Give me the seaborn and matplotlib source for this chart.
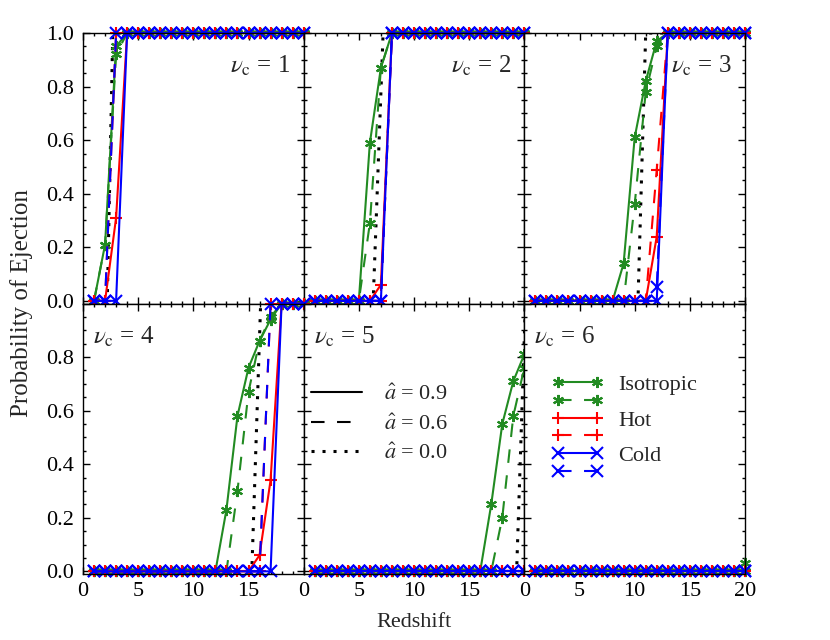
import matplotlib
matplotlib.use("Agg")
import matplotlib.pyplot as plt
import seaborn as sns
from matplotlib.lines import Line2D
from matplotlib.ticker import MultipleLocator

# redshift grid of the simulations
redshift = [1, 2, 3, 4, 5, 6, 7, 8, 9, 10, 11, 12, 13, 14, 15, 16, 17, 18, 19, 20]

# nu_c = 1
iso09_1 = [0, .21, .95, 1, 1, 1, 1, 1, 1, 1, 1, 1, 1, 1, 1, 1, 1, 1, 1, 1]
iso06_1 = [0, .21, .92, 1, 1, 1, 1, 1, 1, 1, 1, 1, 1, 1, 1, 1, 1, 1, 1, 1]
hot09_1 = [0, 0, .31, 1, 1, 1, 1, 1, 1, 1, 1, 1, 1, 1, 1, 1, 1, 1, 1, 1]
hot06_1 = [0, 0, 1, 1, 1, 1, 1, 1, 1, 1, 1, 1, 1, 1, 1, 1, 1, 1, 1, 1]
cold09_1 = [0, 0, 0, 1, 1, 1, 1, 1, 1, 1, 1, 1, 1, 1, 1, 1, 1, 1, 1, 1]
cold06_1 = [0, 0, 1, 1, 1, 1, 1, 1, 1, 1, 1, 1, 1, 1, 1, 1, 1, 1, 1, 1]
dotx_1 = [1, 2.2, 2.7, 20]
doty_1 = [0, 0, 1, 1]

# nu_c = 2
iso09_2 = [0, 0, 0, 0, 0, .59, .87, 1, 1, 1, 1, 1, 1, 1, 1, 1, 1, 1, 1, 1]
iso06_2 = [0, 0, 0, 0, 0, .29, .87, 1, 1, 1, 1, 1, 1, 1, 1, 1, 1, 1, 1, 1]
hot09_2 = [0, 0, 0, 0, 0, 0, .06, 1, 1, 1, 1, 1, 1, 1, 1, 1, 1, 1, 1, 1]
hot06_2 = [0, 0, 0, 0, 0, 0, 0, 1, 1, 1, 1, 1, 1, 1, 1, 1, 1, 1, 1, 1]
cold09_2 = [0, 0, 0, 0, 0, 0, 0, 1, 1, 1, 1, 1, 1, 1, 1, 1, 1, 1, 1, 1]
cold06_2 = [0, 0, 0, 0, 0, 0, 0, 1, 1, 1, 1, 1, 1, 1, 1, 1, 1, 1, 1, 1]
dotx_2 = [1, 6.3, 7.2, 20]
doty_2 = [0, 0, 1, 1]

# nu_c = 3
iso09_3 = [0, 0, 0, 0, 0, 0, 0, 0, .14, .61, .82, .97, 1, 1, 1, 1, 1, 1, 1, 1]
iso06_3 = [0, 0, 0, 0, 0, 0, 0, 0, 0, .36, .78, .95, 1, 1, 1, 1, 1, 1, 1, 1]
hot09_3 = [0, 0, 0, 0, 0, 0, 0, 0, 0, 0, 0, .24, 1, 1, 1, 1, 1, 1, 1, 1]
hot06_3 = [0, 0, 0, 0, 0, 0, 0, 0, 0, 0, 0, .49, 1, 1, 1, 1, 1, 1, 1, 1]
cold09_3 = [0, 0, 0, 0, 0, 0, 0, 0, 0, 0, 0, 0, 1, 1, 1, 1, 1, 1, 1, 1]
cold06_3 = [0, 0, 0, 0, 0, 0, 0, 0, 0, 0, 0, .05, 1, 1, 1, 1, 1, 1, 1, 1]
dotx_3 = [1, 10.3, 11.0, 20]
doty_3 = [0, 0, 1, 1]

# nu_c = 4
iso09_4 = [0, 0, 0, 0, 0, 0, 0, 0, 0, 0, 0, 0, .23, .58, .76, .86, .94, 1, 1, 1]
iso06_4 = [0, 0, 0, 0, 0, 0, 0, 0, 0, 0, 0, 0, 0, .30, .67, .86, .95, 1, 1, 1]
hot09_4 = [0, 0, 0, 0, 0, 0, 0, 0, 0, 0, 0, 0, 0, 0, 0, .06, .34, 1, 1, 1]
hot06_4 = [0, 0, 0, 0, 0, 0, 0, 0, 0, 0, 0, 0, 0, 0, 0, 0, 1, 1, 1, 1]
cold09_4 = [0, 0, 0, 0, 0, 0, 0, 0, 0, 0, 0, 0, 0, 0, 0, 0, 0, 1, 1, 1]
cold06_4 = [0, 0, 0, 0, 0, 0, 0, 0, 0, 0, 0, 0, 0, 0, 0, 0, 1, 1, 1, 1]
dotx_4 = [1, 15.3, 16.1, 20]
doty_4 = [0, 0, 1, 1]

# nu_c = 5
iso09_5 = [0, 0, 0, 0, 0, 0, 0, 0, 0, 0, 0, 0, 0, 0, 0, 0, .25, .55, .71, .81]
iso06_5 = [0, 0, 0, 0, 0, 0, 0, 0, 0, 0, 0, 0, 0, 0, 0, 0, 0, .20, .58, .76]
hot09_5 = [0, 0, 0, 0, 0, 0, 0, 0, 0, 0, 0, 0, 0, 0, 0, 0, 0, 0, 0, 0]
hot06_5 = [0, 0, 0, 0, 0, 0, 0, 0, 0, 0, 0, 0, 0, 0, 0, 0, 0, 0, 0, 0]
cold09_5 = [0, 0, 0, 0, 0, 0, 0, 0, 0, 0, 0, 0, 0, 0, 0, 0, 0, 0, 0, 0]
cold06_5 = [0, 0, 0, 0, 0, 0, 0, 0, 0, 0, 0, 0, 0, 0, 0, 0, 0, 0, 0, 0]
dotx_5 = [1, 19.3, 20.1]
doty_5 = [0, 0, 1]

# nu_c = 6
iso09_6 = [0, 0, 0, 0, 0, 0, 0, 0, 0, 0, 0, 0, 0, 0, 0, 0, 0, 0, 0, .03]
iso06_6 = [0, 0, 0, 0, 0, 0, 0, 0, 0, 0, 0, 0, 0, 0, 0, 0, 0, 0, 0, 0]
hot09_6 = [0, 0, 0, 0, 0, 0, 0, 0, 0, 0, 0, 0, 0, 0, 0, 0, 0, 0, 0, 0]
hot06_6 = [0, 0, 0, 0, 0, 0, 0, 0, 0, 0, 0, 0, 0, 0, 0, 0, 0, 0, 0, 0]
cold09_6 = [0, 0, 0, 0, 0, 0, 0, 0, 0, 0, 0, 0, 0, 0, 0, 0, 0, 0, 0, 0]
cold06_6 = [0, 0, 0, 0, 0, 0, 0, 0, 0, 0, 0, 0, 0, 0, 0, 0, 0, 0, 0, 0]

panels = [
    (1, iso09_1, iso06_1, hot09_1, hot06_1, cold09_1, cold06_1, dotx_1, doty_1),
    (2, iso09_2, iso06_2, hot09_2, hot06_2, cold09_2, cold06_2, dotx_2, doty_2),
    (3, iso09_3, iso06_3, hot09_3, hot06_3, cold09_3, cold06_3, dotx_3, doty_3),
    (4, iso09_4, iso06_4, hot09_4, hot06_4, cold09_4, cold06_4, dotx_4, doty_4),
    (5, iso09_5, iso06_5, hot09_5, hot06_5, cold09_5, cold06_5, dotx_5, doty_5),
    (6, iso09_6, iso06_6, hot09_6, hot06_6, cold09_6, cold06_6, None, None),
]

GREEN = '#228b22'
RED = '#ff0000'
BLUE = '#0000ff'
ASTER = (6, 2, 0)
SOLID = '-'
DASH = (0, (6.5, 6))
DOT = (0, (1, 2.6))

sns.set_style("ticks")
plt.rcParams['font.family'] = ['Liberation Serif', 'DejaVu Serif']
plt.rcParams['mathtext.fontset'] = 'stix'
plt.rcParams['axes.edgecolor'] = 'black'
plt.rcParams['axes.linewidth'] = 1.0
plt.rcParams['xtick.color'] = 'black'
plt.rcParams['ytick.color'] = 'black'

fig, axes = plt.subplots(2, 3, figsize=(8.3, 6.4), dpi=100)
fig.subplots_adjust(left=0.1, right=0.8976, top=0.9484, bottom=0.1031,
                    wspace=0, hspace=0)


def draw_series(ax, y, color, marker, ls):
    sns.lineplot(x=redshift, y=y, ax=ax, color=color, lw=1.5, linestyle=ls,
                 marker=marker, markersize=8, markeredgecolor=color,
                 markeredgewidth=1.5, clip_on=False)


for i, (nu, i9, i6, h9, h6, c9, c6, dx, dy) in enumerate(panels):
    ax = axes[i // 3, i % 3]
    if dx is not None:
        sns.lineplot(x=dx, y=dy, ax=ax, color='black', lw=2.2, linestyle=DOT)
    draw_series(ax, i9, GREEN, ASTER, SOLID)
    draw_series(ax, i6, GREEN, ASTER, DASH)
    draw_series(ax, h9, RED, '+', SOLID)
    draw_series(ax, h6, RED, '+', DASH)
    draw_series(ax, c9, BLUE, 'x', SOLID)
    draw_series(ax, c6, BLUE, 'x', DASH)

    ax.set_xlim(0, 20)
    ax.set_ylim(-0.01, 1.0)
    ax.set_xlabel('')
    ax.set_ylabel('')
    ax.xaxis.set_minor_locator(MultipleLocator(1))
    ax.yaxis.set_minor_locator(MultipleLocator(0.05))
    ax.tick_params(which='both', direction='in', top=True, right=True,
                   labelsize=16, width=1.0)
    ax.tick_params(which='major', length=5)
    ax.tick_params(which='minor', length=2.5)
    ax.tick_params(axis='y', pad=6.5)
    ax.tick_params(axis='x', pad=6)

    xt = [0, 5, 10, 15, 20]
    if i < 3:
        ax.set_xticks(xt, ['', '', '', '', ''])
    elif i == 5:
        ax.set_xticks(xt, ['0', '5', '10', '15', '20'])
    else:
        ax.set_xticks(xt, ['0', '5', '10', '15', ''])
    yt = [0, 0.2, 0.4, 0.6, 0.8, 1.0]
    if i == 0:
        ax.set_yticks(yt, ['0.0', '0.2', '0.4', '0.6', '0.8', '1.0'])
    elif i == 3:
        ax.set_yticks(yt, ['0.0', '0.2', '0.4', '0.6', '0.8', ''])
    else:
        ax.set_yticks(yt, ['', '', '', '', '', ''])

    label = r'$\nu_{\rm c}$' + ' = %d' % nu
    if i < 3:
        ax.text(0.94, 0.855, label, transform=ax.transAxes, ha='right',
                va='baseline', fontsize=18)
    else:
        ax.text(0.045, 0.85, label, transform=ax.transAxes, ha='left',
                va='baseline', fontsize=18)

# spin legend
spin_handles = [
    Line2D([], [], color='black', lw=1.5, linestyle=SOLID),
    Line2D([], [], color='black', lw=1.5, linestyle=DASH),
    Line2D([], [], color='black', lw=2.2, linestyle=DOT),
]
spin_labels = [r'$\hat{a}$ = 0.9', r'$\hat{a}$ = 0.6', r'$\hat{a}$ = 0.0']
axes[1, 1].legend(spin_handles, spin_labels, loc='upper left',
                  bbox_to_anchor=(0.032, 0.70), frameon=False, fontsize=16,
                  handlelength=2.3, handletextpad=1.0, labelspacing=0.4,
                  borderpad=0, borderaxespad=0)

# orbit legend
orbit_handles = []
for color, marker in [(GREEN, ASTER), (RED, '+'), (BLUE, 'x')]:
    for ls in [SOLID, DASH]:
        orbit_handles.append(Line2D([], [], color=color, lw=1.5, linestyle=ls,
                                    marker=marker, markersize=8,
                                    markeredgecolor=color, markeredgewidth=1.5))
orbit_labels = ['Isotropic', '', 'Hot', '', 'Cold', '']
axes[1, 2].legend(orbit_handles, orbit_labels, loc='upper left',
                  bbox_to_anchor=(0.124, 0.737), frameon=False, fontsize=16,
                  numpoints=2, handlelength=2.36, handletextpad=0.64,
                  labelspacing=-0.13, borderpad=0, borderaxespad=0)

fig.text(0.0265, 0.527, 'Probability of Ejection', rotation=90,
         ha='center', va='center', fontsize=18)
fig.text(0.4988, 0.028, 'Redshift', ha='center', va='center', fontsize=16)

fig.savefig('out.png', dpi=100)
